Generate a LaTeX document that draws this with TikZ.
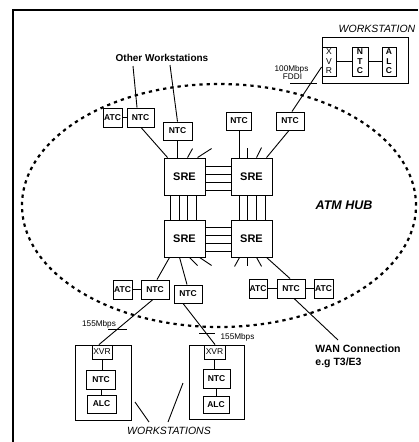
\documentclass[tikz,border=0pt]{standalone}
\usepackage{fontspec}
\setmainfont{Liberation Sans}
\usetikzlibrary{calc}
\begin{document}
\begin{tikzpicture}[x=1pt,y=-1pt,
  line width=0.9pt,
  bx/.style={draw, fill=white, line width=0.9pt, inner sep=0pt, font=\bfseries\fontsize{8.5}{9}\selectfont},
  sre/.style={bx, minimum width=41pt, minimum height=37pt, font=\bfseries\fontsize{11}{12}\selectfont},
  vbx/.style={bx, align=center, font=\bfseries\fontsize{8.5}{9.5}\selectfont},
  rbx/.style={bx, font=\fontsize{8.5}{9}\selectfont},
  ws/.style={draw, line width=0.9pt, inner sep=0pt},
  lbl/.style={inner sep=0pt, font=\fontsize{8.2}{8.5}\selectfont},
  hub/.style={dash pattern=on 3.3pt off 4pt, line width=2.2pt}
]
\useasboundingbox (0,0) rectangle (418,442);
% frame
\draw[line width=1.1pt] (13,442) -- (13,10) -- (418,10);
% hub ellipse
\draw[hub] (219,205.5) ellipse [x radius=197pt, y radius=121.5pt];

% SRE switches
\node[sre] (sreTL) at (184.5,176.5) {SRE};
\node[sre] (sreTR) at (251.5,176.5) {SRE};
\node[sre] (sreBL) at (184.5,238.5) {SRE};
\node[sre] (sreBR) at (251.5,238.5) {SRE};

% top cards
\node[bx, minimum width=19pt, minimum height=19pt] (atcTL) at (112.5,117.5) {ATC};
\node[bx, minimum width=27pt, minimum height=19pt] (ntcTL) at (140.5,117.5) {NTC};
\node[bx, minimum width=29pt, minimum height=18pt] (ntcT2) at (177.5,131) {NTC};
\node[bx, minimum width=25pt, minimum height=18pt] (ntcT3) at (239,121) {NTC};
\node[bx, minimum width=28pt, minimum height=18pt] (ntcT4) at (290,121) {NTC};

% bottom cards
\node[bx, minimum width=19pt, minimum height=19pt] (atcBL) at (122.5,289.5) {ATC};
\node[bx, minimum width=28pt, minimum height=19pt] (ntcBL) at (155,289.5) {NTC};
\node[bx, minimum width=28pt, minimum height=18pt] (ntcB2) at (188,294) {NTC};
\node[bx, minimum width=18pt, minimum height=19pt] (atcBR1) at (258,288.5) {ATC};
\node[bx, minimum width=28pt, minimum height=19pt] (ntcBR) at (291,288.5) {NTC};
\node[bx, minimum width=19pt, minimum height=19pt] (atcBR2) at (323.5,288.5) {ATC};

% top-right workstation
\node[ws, minimum width=86pt, minimum height=46pt] (wsT) at (365,60) {};
\node[vbx, font=\fontsize{8.5}{9.5}\selectfont, minimum width=14pt, minimum height=29pt] (xvrT) at (329,61.5) {X\\V\\R};
\node[vbx, minimum width=16pt, minimum height=29pt] (ntcT) at (360,61.5) {N\\T\\C};
\node[vbx, minimum width=14pt, minimum height=29pt] (alcT) at (389,61.5) {A\\L\\C};
\node[inner sep=0pt, font=\itshape\fontsize{10.5}{12}\selectfont] (wsTlbl) at (377,29) {WORKSTATION};

% bottom-left workstation
\node[ws, minimum width=56pt, minimum height=75pt] (wsL) at (103,382.5) {};
\node[rbx, minimum width=20pt, minimum height=14pt] (xvrL) at (102,352) {XVR};
\node[bx, minimum width=29pt, minimum height=19pt] (ntcL) at (101,379.5) {NTC};
\node[bx, minimum width=29pt, minimum height=18pt] (alcL) at (101.5,404) {ALC};

% bottom-right workstation
\node[ws, minimum width=55pt, minimum height=74pt] (wsR) at (216.5,382) {};
\node[rbx, minimum width=21pt, minimum height=14pt] (xvrR) at (214.5,352) {XVR};
\node[bx, minimum width=27pt, minimum height=19pt] (ntcR) at (216.5,378.5) {NTC};
\node[bx, minimum width=26pt, minimum height=17pt] (alcR) at (216,404.5) {ALC};

% texts
\node[inner sep=0pt, font=\bfseries\fontsize{10}{12}\selectfont] (ow) at (162,58) {Other Workstations};
\node[inner sep=0pt, font=\bfseries\itshape\fontsize{12.5}{14}\selectfont] (hubl) at (344,205) {ATM HUB};
\node[lbl] (fddi1) at (291.5,69) {100Mbps};
\node[lbl] (fddi2) at (292.5,76.5) {FDDI};
\node[lbl] (sp1) at (99,324) {155Mbps};
\node[lbl] (sp2) at (237.5,337) {155Mbps};
\node[inner sep=0pt, anchor=base west, font=\bfseries\fontsize{10.5}{12}\selectfont] (wan1) at (315,352) {WAN Connection};
\node[inner sep=0pt, anchor=base west, font=\bfseries\fontsize{10.5}{12}\selectfont] (wan2) at (315,365) {e.g T3/E3};
\node[inner sep=0pt, font=\itshape\fontsize{10.5}{12}\selectfont] (wsB) at (169,431) {WORKSTATIONS};

\coordinate (ow1) at (133,66);
\coordinate (ow2) at (170,65);
\coordinate (wan) at (338,340);
\coordinate (p1) at (135,402);
\coordinate (p2) at (149,422);
\coordinate (p3) at (183,383);
\coordinate (p4) at (168,422);

% ticks
\draw (290,83) -- (317,83);
\draw (108,329) -- (127,329);
\draw (199,333) -- (215,333);

% connectors top
\draw (ow1) -- ($(ntcTL.north)+(-3.5,0)$);
\draw (ow2) -- (ntcT2.north);
\draw (atcTL.east) -- (ntcTL.west);
\draw ($(ntcTL.south)+(0.5,0)$) -- ($(sreTL.north west)+(4,0)$);
\draw (ntcT2.south) -- (ntcT2.south |- sreTL.north);
\draw ($(sreTL.north west)+(24,0)$) -- ++(5,-9);
\draw ($(sreTL.north west)+(34,0)$) -- ++(14,-9);
\draw (ntcT3.south) -- (ntcT3.south |- sreTR.north);
\draw ($(sreTR.north west)+(17,0)$) -- ++(0,-10);
\draw ($(sreTR.north west)+(26,0)$) -- ++(5,-10);
\draw ($(ntcT4.south)+(-1,0)$) -- ($(sreTR.north west)+(36,0)$);
\draw ($(ntcT4.north)+(2,0)$) -- ($(xvrT.west)+(0,5.5)$);
\draw (xvrT.east) -- (ntcT.west);
\draw (ntcT.east) -- (alcT.west);

% SRE mesh
\foreach \d in {-10.5,-2.2,6.2,14.2}
  \draw ($(sreTL.east)+(0,\d)$) -- ($(sreTR.west)+(0,\d)$);
\foreach \d in {-11.2,-3.5,4.8,12.5}
  \draw ($(sreBL.east)+(0,\d)$) -- ($(sreBR.west)+(0,\d)$);
\foreach \d in {-13.8,-5.2,3.2,11.5}
  \draw ($(sreTL.south)+(\d,0)$) -- ($(sreBL.north)+(\d,0)$);
\foreach \d in {-12.2,-3.8,5.2,13.5}
  \draw ($(sreTR.south)+(\d,0)$) -- ($(sreBR.north)+(\d,0)$);

% connectors bottom
\draw ($(sreBL.south west)+(6,0)$) -- ($(ntcBL.north)+(2,0)$);
\draw ($(sreBL.south west)+(16,0)$) -- ($(ntcB2.north)+(-1,0)$);
\draw ($(sreBL.south west)+(26,0)$) -- ++(8,8);
\draw ($(sreBL.south west)+(36,0)$) -- ++(12,8);
\draw ($(sreBR.south west)+(9,0)$) -- ++(-5,9);
\draw ($(sreBR.south west)+(17,0)$) -- ++(0,9);
\draw ($(sreBR.south west)+(26,0)$) -- ++(5,9);
\draw ($(sreBR.south west)+(36,0)$) -- ($(ntcBR.north)+(-1,0)$);
\draw (atcBL.east) -- (ntcBL.west);
\draw (atcBR1.east) -- (ntcBR.west);
\draw (ntcBR.east) -- (atcBR2.west);
\draw ($(ntcBR.south)+(3,0)$) -- (wan);
\draw ($(ntcBL.south)+(-2,0)$) -- ($(xvrL.north)+(-3,0)$);
\draw ($(ntcB2.south)+(-5,0)$) -- ($(xvrR.north)+(0.5,0)$);
\draw (xvrL.south) -- (xvrL.south |- ntcL.north);
\draw (ntcL.south) -- (ntcL.south |- alcL.north);
\draw (xvrR.south) -- (xvrR.south |- ntcR.north);
\draw (ntcR.south) -- (ntcR.south |- alcR.north);
\draw (p1) -- (p2);
\draw (p3) -- (p4);
\end{tikzpicture}
\end{document}
